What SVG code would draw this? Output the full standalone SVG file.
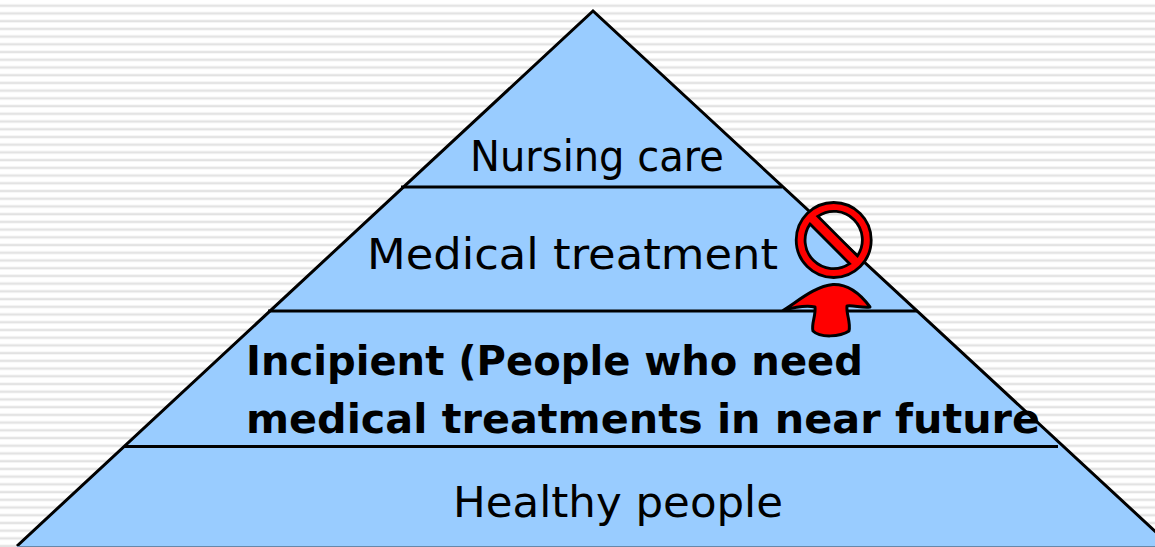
<svg xmlns="http://www.w3.org/2000/svg" width="1155" height="547" viewBox="0 0 1155 547">
<style>
.t{font-family:"DejaVu Sans","Liberation Sans",sans-serif;font-size:42px;fill:#000}
.b{font-weight:bold;font-size:40px}
.l{stroke:#000;stroke-width:3;fill:none}
</style>
<defs>
<pattern id="stripes" x="0" y="1.8" width="20" height="7.72" patternUnits="userSpaceOnUse">
<rect width="20" height="7.72" fill="#fff"/>
<rect y="2.4" width="20" height="3" fill="#f0f0f0"/>
<rect y="3.2" width="20" height="1.5" fill="#e0e0e0"/>
</pattern>
</defs>
<rect id="background" width="1155" height="547" fill="url(#stripes)"/>
<g id="pyramid">
<path d="M593 11L17 546L1171 546Z" fill="#99ccff"/>
<path d="M17 546L593 11L1171 546" class="l"/>
<path d="M17 546.500H1155" stroke="#6688aa" stroke-width="1.200"/>
</g>
<g id="connectors">
<path d="M401 187H782" class="l"/>
<path d="M268 311H917" class="l"/>
<path d="M124 446.500H1058" class="l"/>
</g>
<g id="node-nursing"><text class="t" x="470" y="171" textLength="254" lengthAdjust="spacingAndGlyphs">Nursing care</text></g>
<g id="node-medical"><text class="t" x="367" y="269" textLength="411" lengthAdjust="spacingAndGlyphs">Medical treatment</text></g>
<g id="node-incipient">
<text class="t b" x="246" y="375" textLength="617" lengthAdjust="spacingAndGlyphs">Incipient (People who need</text>
<text class="t b" x="246" y="433" textLength="794" lengthAdjust="spacingAndGlyphs">medical treatments in near future</text>
</g>
<g id="node-healthy"><text class="t" x="453" y="517" textLength="330" lengthAdjust="spacingAndGlyphs">Healthy people</text></g>
<g id="no-symbol">
<path fill="#f00" stroke="#000" stroke-width="2.800" fill-rule="evenodd" d="M796.200 240a37.500 37.500 0 1 0 75 0a37.500 37.500 0 1 0 -75 0Z
M817.800 216.300L857.400 255.900A28.500 28.500 0 0 0 817.800 216.300Z
M810 224.100L849.600 263.700A28.500 28.500 0 0 1 810 224.100Z"/>
</g>
<g id="arrow">
<path fill="#f00" stroke="#000" stroke-width="3" stroke-linejoin="round" d="M783 310.500C797 302 815 286 833 284.500C850 284 862 296 870 307C862 308 853 305 847 306C846 314 851 322 849 331C840 337 820 338 813 331C811 324 816 316 815 307C806 305 795 307 783 310.500Z"/>
</g>
</svg>
